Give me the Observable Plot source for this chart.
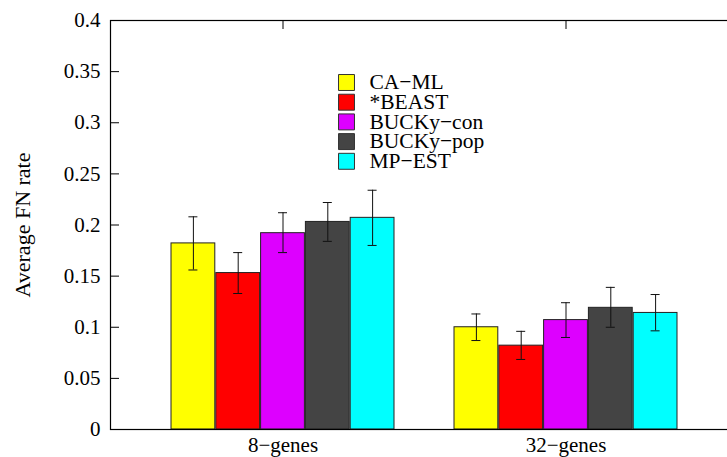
<!DOCTYPE html>
<html><head><meta charset="utf-8">
<script src="https://cdn.jsdelivr.net/npm/d3@7"></script>
<script src="https://cdn.jsdelivr.net/npm/@observablehq/plot@0.6"></script>
<style>
html,body{margin:0;padding:0;background:#fff;overflow:hidden;}
#chart svg{overflow:hidden;}
#chart svg text{font-family:"Liberation Serif","Times New Roman",Times,serif;}
</style>
</head><body><div id="chart"></div>
<script>
// ---- data ----
const groups = ["8-genes", "32-genes"];
const groupLabels = ["8−genes", "32−genes"];
const series = ["CA−ML", "*BEAST", "BUCKy−con", "BUCKy−pop", "MP−EST"];
const colors = ["#ffff00", "#ff0000", "#dd00ff", "#444444", "#00ffff"];
const means8  = [0.182, 0.153, 0.192, 0.203, 0.207];
const means32 = [0.100, 0.082, 0.107, 0.119, 0.114];
const low8  = [0.156, 0.133, 0.173, 0.184, 0.180];
const high8 = [0.208, 0.173, 0.212, 0.222, 0.234];
const low32  = [0.087, 0.0685, 0.090, 0.100, 0.0965];
const high32 = [0.113, 0.096, 0.124, 0.139, 0.132];
const yTicks = [0, 0.05, 0.1, 0.15, 0.2, 0.25, 0.3, 0.35, 0.4];
const yTickLabels = ["0", "0.05", "0.1", "0.15", "0.2", "0.25", "0.3", "0.35", "0.4"];
const yLabel = "Average FN rate";

const rows = [];
series.forEach((s, i) => {
  rows.push({group: groups[0], series: s, i, mean: means8[i], lo: low8[i], hi: high8[i]});
  rows.push({group: groups[1], series: s, i, mean: means32[i], lo: low32[i], hi: high32[i]});
});

const FONT = "Liberation Serif, Times New Roman, Times, serif";
const bandW = 224, barW = bandW / series.length;

const marks = [];
series.forEach((s, i) => {
  const d = rows.filter(r => r.i === i);
  marks.push(Plot.barY(d, {x: "group", y: "mean", fill: colors[i], stroke: "#222", strokeWidth: 1,
    insetLeft: i * barW, insetRight: (series.length - 1 - i) * barW}));
});
series.forEach((s, i) => {
  const d = rows.filter(r => r.i === i);
  const dx = (i - (series.length - 1) / 2) * barW;
  marks.push(Plot.ruleX(d, {x: "group", y1: "lo", y2: "hi", dx, stroke: "#111", strokeWidth: 1}));
  marks.push(Plot.tickY(d, {x: "group", y: "lo", dx, insetLeft: 107, insetRight: 107, stroke: "#111", strokeWidth: 1}));
  marks.push(Plot.tickY(d, {x: "group", y: "hi", dx, insetLeft: 107, insetRight: 107, stroke: "#111", strokeWidth: 1}));
});
// frame lines
marks.push(Plot.frame({stroke: "#000", strokeWidth: 1.2}));
// y ticks inward
marks.push(Plot.tickY(yTicks, {y: d => d, insetRight: 619, stroke: "#000"}));
// top x ticks inward
marks.push(Plot.tickX(groups, {x: d => d, insetBottom: 400, stroke: "#000"}));
// axes text
marks.push(Plot.axisY(yTicks, {tickSize: 0, tickPadding: 10, fontSize: 21, fontFamily: FONT,
  tickFormat: d => yTickLabels[yTicks.indexOf(d)], label: null}));
marks.push(Plot.axisY({tickSize: 0, text: null, tickFormat: () => "", fontSize: 22, fontFamily: FONT,
  label: yLabel, labelAnchor: "center", labelArrow: "none", labelOffset: 96}));
marks.push(Plot.axisX({tickSize: 0, tickPadding: 8, fontSize: 21, fontFamily: FONT,
  tickFormat: d => groupLabels[groups.indexOf(d)], label: null}));
// legend
series.forEach((s, i) => {
  marks.push(Plot.dot([s], {frameAnchor: "top-left", dx: 236, dy: 62 + i * 19.7, symbol: "square", r: 9,
    fill: colors[i], stroke: "#333", strokeWidth: 1}));
  marks.push(Plot.text([s], {frameAnchor: "top-left", dx: 259, dy: 62 + i * 19.7, text: d => d,
    textAnchor: "start", lineAnchor: "middle", fontSize: 21.5, fontFamily: FONT, fill: "#000"}));
});

const chart = Plot.plot({
  width: 727, height: 457,
  marginLeft: 110, marginRight: -11, marginTop: 20, marginBottom: 28,
  style: {fontFamily: FONT, background: "#fff", color: "#000", fontSize: "20px"},
  x: {type: "band", domain: groups, padding: 0.2113, axis: null},
  y: {domain: [0, 0.4], axis: null},
  marks
});
document.getElementById("chart").appendChild(chart);
</script>
</body></html>
